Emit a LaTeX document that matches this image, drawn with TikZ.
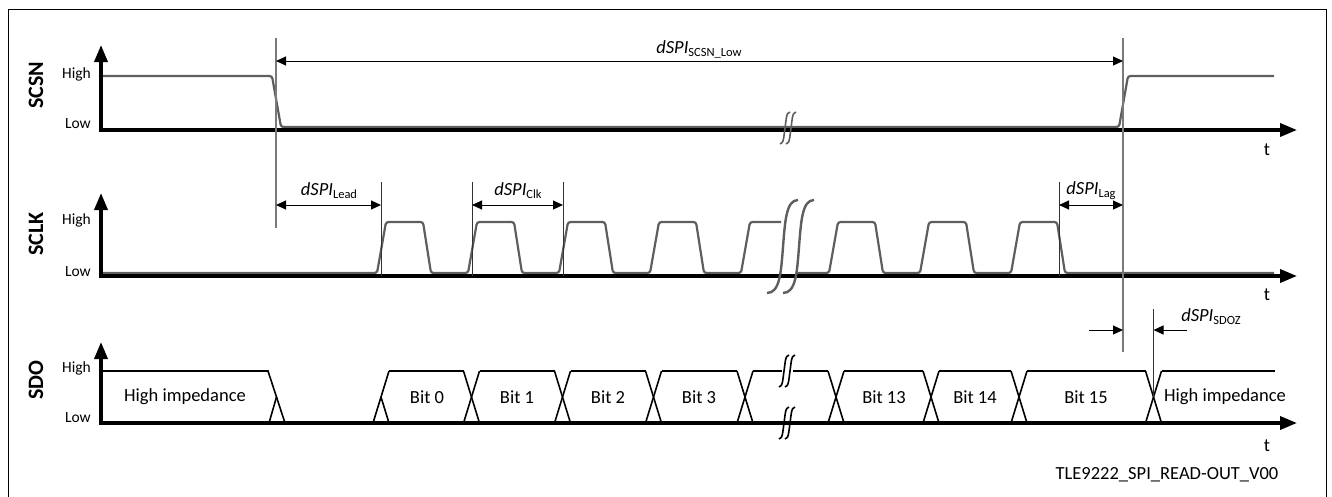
\documentclass[tikz,border=0pt]{standalone}
\usepackage{fontspec}
\setmainfont{Carlito}
\usetikzlibrary{arrows.meta}
\definecolor{sigc}{HTML}{5E5E5E}
\definecolor{guidec}{HTML}{7A7A7A}
\newcommand{\dspi}[1]{\textit{dSPI}\raisebox{-0.35ex}{\fontsize{12.5}{13}\selectfont #1}}
\tikzset{
  axisline/.style={line width=3.5pt, -{Triangle[length=17pt,width=13pt]}},
  sig/.style={line width=2.2pt, draw=sigc, rounded corners=2.5pt},
  bus/.style={line width=1.6pt, draw=black},
  guide/.style={line width=1.3pt, draw=guidec},
  thinguide/.style={line width=1pt, draw=black!80},
  dimline/.style={line width=1pt, {Triangle[length=10pt,width=9pt]}-{Triangle[length=10pt,width=9pt]}},
  halfdim/.style={line width=1pt, -{Triangle[length=10pt,width=9pt]}},
  lbl/.style={font=\fontsize{18.5}{20}\selectfont, inner sep=0pt},
  lvl/.style={font=\fontsize{15.5}{17}\selectfont, inner sep=0pt, anchor=east},
  sname/.style={font=\bfseries\fontsize{22}{24}\selectfont, inner sep=0pt, rotate=90},
  brk/.pic={\draw (-5,16) .. controls (-1,16) and (-1,6) .. (0,0) .. controls (1,-6) and (1,-16) .. (5,-16);}
}
\begin{document}
\begin{tikzpicture}[x=1pt,y=-1pt]
\useasboundingbox (0,0) rectangle (1332,496);
% frame
\draw[line width=1pt] (8,497) -- (8,9) -- (1326,9) -- (1326,497);

% ---------- SCSN ----------
\node[sname] (nSCSN) at (36,85) {SCSN};
\node[lvl] (hSCSN) at (91,74) {High};
\node[lvl] (lSCSN) at (91,124) {Low};
\draw[sig] (103,76) -- (272,76) -- (281,127) -- (1119,127) -- (1128,76) -- (1274,76);
\draw[axisline] (101,130) -- (1297,130);
\draw[axisline] (101,131.75) -- (101,45);
\node[lbl] (tSCSN) at (1267,150) {t};
\pic[draw=sigc, line width=1.6pt] at (785,128) {brk};
\pic[draw=sigc, line width=1.6pt] at (791,128) {brk};

% ---------- SCLK ----------
\node[sname] (nSCLK) at (36,234) {SCLK};
\node[lvl] (hSCLK) at (91,220) {High};
\node[lvl] (lSCLK) at (91,272) {Low};
\draw[sig] (103,273) \foreach \s in {377,468,559,650} { -- (\s,273) -- ({\s+9},222) -- ({\s+46},222) -- ({\s+54},273) } -- (741,273) -- (750,222) -- (781,222);
\draw[sig] (797,273) \foreach \s in {829,920,1011} { -- (\s,273) -- ({\s+9},222) -- ({\s+46},222) -- ({\s+54},273) } -- (1274,273);
\draw[axisline] (101,276) -- (1297,276);
\draw[axisline] (101,277.75) -- (101,193);
\node[lbl] (tSCLK) at (1267,295) {t};
\draw[sigc, line width=2.4pt] (767,293) .. controls (780,293) and (781,272) .. (783,247) .. controls (785,222) and (786,200) .. (798,200);
\draw[sigc, line width=2.4pt] (783,293) .. controls (796,293) and (797,272) .. (799,247) .. controls (801,222) and (802,200) .. (814,200);

% ---------- SDO ----------
\node[sname] (nSDO) at (36,380) {SDO};
\node[lvl] (hSDO) at (91,368) {High};
\node[lvl] (lSDO) at (91,418) {Low};
\draw[axisline] (101,423) -- (1297,423);
\draw[axisline] (101,424.75) -- (101,342);
\node[lbl] (tSDO) at (1267,446) {t};
\draw[bus] (103,371) -- (268,371) -- (285,423);
\draw[bus] (269,423) -- (276.5,397);
\draw[bus] (373,423) -- (389,371);
\draw[bus] (381,397) -- (389,423);
\foreach \c in {471.5,562.5,653.5,745,836,931,1019,1153.5} {
  \draw[bus] ({\c-8},371) -- ({\c+8},423);
  \draw[bus] ({\c-8},423) -- ({\c+8},371);
}
\draw[bus] (389,371) -- (463.5,371);
\draw[bus] (479.5,371) -- (554.5,371);
\draw[bus] (570.5,371) -- (645.5,371);
\draw[bus] (661.5,371) -- (737,371);
\draw[bus] (753,371) -- (782,371);
\draw[bus] (793,371) -- (828,371);
\draw[bus] (844,371) -- (923,371);
\draw[bus] (939,371) -- (1011,371);
\draw[bus] (1027,371) -- (1145.5,371);
\draw[bus] (1161.5,371) -- (1275,371);
\pic[draw=black, line width=1.6pt] at (784,371) {brk};
\pic[draw=black, line width=1.6pt] at (790,371) {brk};
\pic[draw=black, line width=1.6pt] at (784,423) {brk};
\pic[draw=black, line width=1.6pt] at (790,423) {brk};
\node[lbl] (hiz1) at (185,397) {High impedance};
\node[lbl] (b0) at (427,397) {Bit 0};
\node[lbl] (b1) at (517,397) {Bit 1};
\node[lbl] (b2) at (608,397) {Bit 2};
\node[lbl] (b3) at (699,397) {Bit 3};
\node[lbl] (b13) at (884,397) {Bit 13};
\node[lbl] (b14) at (975,397) {Bit 14};
\node[lbl] (b15) at (1086,397) {Bit 15};
\node[lbl] (hiz2) at (1225,397) {High impedance};

% ---------- guides and timing ----------
\coordinate (g1t) at (276,38);  \coordinate (g1b) at (276,228);
\coordinate (g2t) at (1123,38); \coordinate (g2b) at (1123,352);
\draw[guide] (g1t) -- (g1b);
\draw[guide] (g2t) -- (g2b);
\draw[thinguide] (381,182) -- (381,276);
\draw[thinguide] (472,182) -- (472,276);
\draw[thinguide] (563,182) -- (563,276);
\draw[thinguide] (1059,182) -- (1059,276);
\draw[thinguide] (1153.5,309) -- (1153.5,397);

\draw[dimline] (276,61) -- (1123,61);
\node[lbl] (dlow) at (699,49) {\dspi{SCSN\_Low}};
\draw[dimline] (276,205) -- (381,205);
\node[lbl] (dlead) at (329,191) {\dspi{Lead}};
\draw[dimline] (472,205) -- (563,205);
\node[lbl] (dclk) at (518,191) {\dspi{Clk}};
\draw[dimline] (1059,205) -- (1123,205);
\node[lbl] (dlag) at (1091,191) {\dspi{Lag}};
\draw[halfdim] (1089,330) -- (1123,330);
\draw[halfdim] (1187,330) -- (1153.5,330);
\node[lbl] (dsdoz) at (1211,317) {\dspi{SDOZ}};

\node[lbl] (ref) at (1167,475) {TLE9222\_SPI\_READ-OUT\_V00};
\end{tikzpicture}
\end{document}
